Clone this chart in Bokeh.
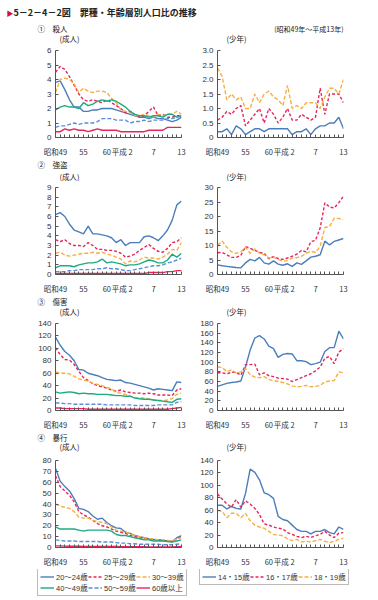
from bokeh.plotting import figure
from bokeh.models import ColumnDataSource, FixedTicker, Label, Legend, LegendItem, Range1d
from bokeh.layouts import column, row
from bokeh.embed import file_html
from bokeh.resources import INLINE

# ---------------- data ----------------
years = list(range(1974, 2002))
x_tick_years = [1974, 1980, 1985, 1990, 1995, 2001]
x_tick_labels = ["昭和49", "55", "60", "平成 2", "7", "13"]

adult_labels = ["20～24歳", "25～29歳", "30～39歳", "40～49歳", "50～59歳", "60歳以上"]
youth_labels = ["14・15歳", "16・17歳", "18・19歳"]

# ① 殺人
murder_a_20_24 = [3.8,3.9,3.3,2.6,2.1,2.1,1.8,1.8,1.9,1.9,2.0,2.0,2.0,1.9,1.8,1.7,1.6,1.5,1.4,1.4,1.3,1.4,1.3,1.3,1.2,1.1,1.2,1.4]
murder_a_25_29 = [4.5,4.9,4.7,4.2,3.6,3.0,2.6,2.5,2.6,2.5,2.4,2.6,2.4,2.2,2.0,1.7,1.8,1.6,1.4,1.5,1.8,2.1,1.5,1.6,1.4,1.4,1.5,1.5]
murder_a_30_39 = [3.1,4.0,4.1,4.0,3.7,3.1,3.4,3.2,3.1,3.2,3.2,3.1,2.7,2.4,1.9,1.8,1.7,1.5,1.5,1.6,1.5,1.4,1.6,1.5,1.6,1.6,1.8,1.6]
murder_a_40_49 = [1.9,2.1,2.2,2.1,2.1,2.0,2.4,2.2,2.3,2.5,2.6,2.5,2.6,2.5,2.3,2.1,1.8,1.6,1.5,1.5,1.4,1.5,1.5,1.4,1.6,1.6,1.4,1.5]
murder_a_50_59 = [0.7,0.8,0.8,0.9,1.0,0.9,1.0,1.0,1.0,1.1,1.3,1.3,1.3,1.2,1.2,1.2,1.0,1.1,1.1,1.2,1.1,1.2,1.2,1.2,1.3,1.3,1.4,1.5]
murder_a_60 = [0.4,0.4,0.6,0.5,0.6,0.5,0.5,0.4,0.5,0.6,0.5,0.5,0.5,0.5,0.4,0.4,0.4,0.4,0.4,0.4,0.5,0.5,0.5,0.5,0.7,0.7,0.7,0.7]
murder_y_14_15 = [0.2,0.2,0.3,0.1,0.4,0.3,0.1,0.2,0.3,0.3,0.2,0.3,0.3,0.3,0.3,0.3,0.1,0.2,0.2,0.3,0.1,0.3,0.4,0.4,0.5,0.5,0.7,0.3]
murder_y_16_17 = [0.6,0.7,0.9,0.8,1.0,1.1,0.4,0.6,0.8,1.0,0.5,1.0,0.8,0.5,0.7,1.0,0.6,0.6,0.8,0.7,0.6,0.7,1.7,0.8,1.5,1.5,1.5,1.2]
murder_y_18_19 = [2.4,2.1,1.3,1.5,1.3,1.4,1.0,1.0,1.5,1.2,1.5,1.6,1.4,1.3,1.1,1.8,1.0,1.1,1.0,1.2,1.2,1.2,1.0,1.4,1.7,1.7,1.5,2.0]

# ② 強盗
robbery_a_20_24 = [6.2,6.4,6.0,5.2,4.6,4.4,4.2,5.0,4.2,4.2,4.1,4.0,3.8,3.3,3.6,3.0,3.3,3.3,3.3,3.9,4.0,3.8,3.5,4.0,4.6,5.6,7.2,7.6]
robbery_a_25_29 = [3.6,3.4,3.6,3.2,3.0,3.0,2.9,3.3,3.0,2.6,2.6,2.5,2.5,2.4,2.2,1.8,1.9,2.1,2.5,2.8,3.1,2.7,2.4,2.3,2.7,3.3,3.4,3.8]
robbery_a_30_39 = [2.2,2.3,2.0,1.9,2.0,2.1,2.2,2.2,2.3,2.2,2.3,2.1,2.0,1.8,1.6,1.1,1.4,1.3,1.5,1.8,1.7,1.7,1.6,1.8,2.1,2.6,2.5,3.3]
robbery_a_40_49 = [0.7,0.9,0.9,0.9,0.8,1.0,1.1,1.2,1.2,1.3,1.6,1.2,1.3,1.2,1.1,0.9,1.0,1.0,1.1,1.3,1.5,1.4,1.2,1.2,1.5,2.1,1.8,2.2]
robbery_a_50_59 = [0.3,0.3,0.3,0.4,0.4,0.5,0.5,0.5,0.5,0.6,0.6,0.7,0.6,0.6,0.5,0.4,0.4,0.5,0.6,0.7,0.8,0.9,0.9,1.0,1.2,1.3,1.5,1.7]
robbery_a_60 = [0.1,0.1,0.1,0.1,0.1,0.1,0.1,0.1,0.1,0.1,0.1,0.1,0.1,0.1,0.1,0.1,0.1,0.1,0.1,0.1,0.2,0.2,0.2,0.2,0.3,0.3,0.4,0.4]
robbery_y_14_15 = [3.3,3.0,2.8,2.6,2.4,2.3,4.0,5.2,4.7,5.9,4.0,3.6,4.7,3.6,3.2,3.7,2.8,4.0,3.5,4.7,6.0,6.3,6.8,11.5,10.2,11.4,11.9,12.4]
robbery_y_16_17 = [7.5,7.6,6.8,5.9,5.9,6.6,9.6,9.0,8.3,7.6,7.3,5.4,6.2,5.5,5.2,5.7,6.3,7.0,8.3,7.8,11.3,11.8,16.0,24.7,23.3,22.9,24.8,27.0]
robbery_y_18_19 = [10.0,11.5,9.4,7.8,7.3,7.8,9.4,7.3,8.8,7.3,6.8,5.7,6.0,5.2,4.6,4.8,5.7,5.8,6.3,7.3,8.0,7.6,9.7,16.2,16.5,19.4,19.3,18.9]

# ③ 傷害
assault_a_20_24 = [118,105,95,89,80,66,65,60,58,56,53,50,49,48,49,45,44,42,40,38,36,33,35,34,33,32,46,45]
assault_a_25_29 = [101,90,82,81,74,63,53,48,43,40,38,36,33,31,33,30,29,28,28,27,28,27,25,25,25,24,33,35]
assault_a_30_39 = [62,60,60,59,55,51,49,47,44,42,40,37,35,29,28,26,23,21,20,20,19,17,16,16,17,19,26,28]
assault_a_40_49 = [30,28,29,30,29,27,28,27,27,26,26,26,25,24,24,23,23,20,19,18,18,17,16,15,14,13,18,19]
assault_a_50_59 = [12,12,11,11,10,10,10,10,10,10,10,9,9,9,9,9,9,8,8,8,8,8,9,9,9,9,13,14]
assault_a_60 = [4,4,3,3,3,3,3,2,2,2,2,2,2,2,2,2,2,2,2,2,2,2,2,2,2,3,4,5]
assault_y_14_15 = [50,53,56,58,59,61,90,125,150,155,148,133,128,110,116,118,117,103,103,101,95,97,100,122,130,130,164,148]
assault_y_16_17 = [78,78,76,79,79,73,95,95,96,74,78,72,70,67,66,65,60,64,68,72,76,82,90,108,112,97,121,128]
assault_y_18_19 = [90,89,80,84,78,80,87,74,69,68,70,64,62,60,58,55,51,49,50,52,49,50,52,59,61,62,80,78]

# ④ 暴行
violence_a_20_24 = [73,61,56,52,45,36,35,33,29,26,27,23,20,18,17.5,14,13,11,10,9,8,7.5,7,6.5,6,5.5,9,11]
violence_a_25_29 = [66,56,52,48,42,33,30,28,25,22,20,19,17,15,14,13,11,10,9,8,8,7,7,6.5,6,5.5,8,10]
violence_a_30_39 = [40,38,37,36,33,28,27,27,25,24,23,22,19,16,15,14,13,11,10,9,8,8,7,7,6.5,6,8,9]
violence_a_40_49 = [19,17,17,17,17,16,15,16,16,16,16,16,15,12,11,11,10,9,8,7,7,6,6,6,5.5,5,6,7]
violence_a_50_59 = [7,6.5,6,6,6,5.5,5.5,5.5,5.5,5.5,5,5,5,4.5,4,4,3.5,3.5,3,3,3,3,3,2.5,2.5,2.5,3,3.5]
violence_a_60 = [1.5,1.5,1.3,1.2,1.2,1.1,1,1,1,1,1,1,1,0.9,0.8,0.8,0.8,0.7,0.7,0.7,0.6,0.6,0.6,0.6,0.6,0.6,0.8,1.0]
violence_y_14_15 = [68,68,62,66,63,62,87,126,121,109,88,85,79,50,45,43,36,29,26,26,22,26,26,29,24,22,33,29]
violence_y_16_17 = [86,78,70,65,77,65,75,70,63,53,38,36,33,31,30,24,21,18,16,18,16,19,21,26,20,16,23,24]
violence_y_18_19 = [60,58,48,55,55,48,55,43,36,33,31,26,21,20,19,14,11,13,9,10,9,11,13,10,8,10,13,15]

# ---------------- style ----------------
JP = "Noto Sans CJK JP"
NUM = "Liberation Sans"
LEG_FONT = "Liberation Sans, Noto Sans CJK JP"
BLUE = "#4a7ebb"
RED = "#e8245a"
ORANGE = "#f6b042"
GREEN = "#1eab82"
LBLUE = "#5a8fd6"
AXIS = "#555555"
TXT = "#333333"

adult_styles = [(BLUE, "solid"), (RED, "3 2"), (ORANGE, "4 2"),
                (GREEN, "solid"), (LBLUE, "4 2"), (RED, "solid")]
youth_styles = [(BLUE, "solid"), (RED, "3 2"), (ORANGE, "4 2")]

FULL_W = 378
LEFT_W, RIGHT_W = 190, 188
LEFT_B = (55, 9)
RIGHT_B = (27, 35)


def blank(h):
    p = figure(width=FULL_W, height=h, x_range=Range1d(0, 1), y_range=Range1d(0, 1),
               output_backend="svg", toolbar_location=None,
               x_axis_location=None, y_axis_location=None, min_border=0)
    p.outline_line_color = None
    p.grid.visible = False
    return p


def note(p, text, x, y, align="left", size="7.5px", color="#222222", style="normal"):
    p.add_layout(Label(x=x, y=y, x_units="screen", y_units="screen", text=text,
                       text_font=JP, text_font_size=size, text_color=color,
                       text_font_style=style, text_align=align, text_baseline="middle"))


def make_panel(series, styles, ymax, ystep, width, height, borders, bt, bb):
    bl, br = borders
    p = figure(width=width, height=height, x_range=Range1d(1974, 2001),
               y_range=Range1d(0, ymax), output_backend="svg", toolbar_location=None,
               min_border_left=bl, min_border_right=br, min_border_top=bt,
               min_border_bottom=bb)
    p.outline_line_color = None
    p.grid.visible = False

    data = {"year": years}
    for i, s in enumerate(series):
        data[f"s{i}"] = s
    src = ColumnDataSource(data)
    for i, (c, d) in enumerate(styles):
        p.line("year", f"s{i}", source=src, line_color=c, line_dash=d, line_width=1.4)

    # x axis
    pos = [y - 1.7 if lab.startswith("平成") else y for y, lab in zip(x_tick_years, x_tick_labels)]
    p.xaxis.ticker = FixedTicker(ticks=pos, minor_ticks=years)
    p.xaxis.major_label_overrides = dict(zip(pos, x_tick_labels))
    p.xaxis.minor_tick_in = 3
    p.xaxis.minor_tick_out = 0
    p.xaxis.minor_tick_line_color = AXIS
    p.xaxis.major_label_standoff = 2
    # y axis
    n = int(round(ymax / ystep))
    ticks = []
    over = {}
    for k in range(n + 1):
        t = round(k * ystep, 3)
        if float(t).is_integer():
            t = int(t)
        ticks.append(t)
        if t == 0:
            over[t] = "0"
        elif ystep < 1:
            over[t] = f"{t:.1f}"
        else:
            over[t] = str(int(t))
    p.yaxis.ticker = FixedTicker(ticks=ticks)
    p.yaxis.major_label_overrides = over
    p.yaxis.major_tick_in = 3
    p.yaxis.major_tick_out = 0
    p.yaxis.minor_tick_line_color = None
    p.yaxis.major_label_standoff = 4
    for ax in (p.xaxis, p.yaxis):
        ax.axis_line_color = AXIS
        ax.major_label_text_font = NUM
        ax.major_label_text_font_size = "8px"
        ax.major_label_text_color = TXT
    p.yaxis.major_tick_line_color = AXIS
    p.xaxis.major_tick_line_color = None
    p.xaxis.major_label_text_font = JP
    p.xaxis.major_label_text_font_size = "7.5px"
    return p


# header strip with title and section ①
s1 = blank(44)
note(s1, "▶", 6, 32, size="7px", color="#d0103a")
note(s1, "5－2－4－2図　罪種・年齢層別人口比の推移", 13, 32, size="9px", style="bold")
note(s1, "①　殺人", 37, 16)
note(s1, "(昭和49年～平成13年)", 343, 16, align="right", size="7px")
note(s1, "(成人)", 59, 6)
note(s1, "(少年)", 226, 6)

p1l = make_panel([murder_a_20_24, murder_a_25_29, murder_a_30_39, murder_a_40_49,
                  murder_a_50_59, murder_a_60], adult_styles,
                 6, 1, LEFT_W, 115, LEFT_B, 6, 13)
p1r = make_panel([murder_y_14_15, murder_y_16_17, murder_y_18_19],
                 youth_styles, 3, 0.5, RIGHT_W, 115, RIGHT_B, 6, 13)

s2 = blank(22)
note(s2, "②　強盗", 37, 17)
note(s2, "(成人)", 59, 5)
note(s2, "(少年)", 226, 5)

p2l = make_panel([robbery_a_20_24, robbery_a_25_29, robbery_a_30_39, robbery_a_40_49,
                  robbery_a_50_59, robbery_a_60], adult_styles,
                 9, 1, LEFT_W, 115, LEFT_B, 6, 15)
p2r = make_panel([robbery_y_14_15, robbery_y_16_17, robbery_y_18_19],
                 youth_styles, 30, 5, RIGHT_W, 115, RIGHT_B, 5, 15)

s3 = blank(21)
note(s3, "③　傷害", 37, 16)
note(s3, "(成人)", 59, 6)
note(s3, "(少年)", 226, 6)

p3l = make_panel([assault_a_20_24, assault_a_25_29, assault_a_30_39, assault_a_40_49,
                  assault_a_50_59, assault_a_60], adult_styles,
                 140, 20, LEFT_W, 115, LEFT_B, 6, 13)
p3r = make_panel([assault_y_14_15, assault_y_16_17, assault_y_18_19],
                 youth_styles, 180, 20, RIGHT_W, 115, RIGHT_B, 6, 13)

s4 = blank(22)
note(s4, "④　暴行", 37, 17)
note(s4, "(成人)", 59, 8)
note(s4, "(少年)", 226, 8)

p4l = make_panel([violence_a_20_24, violence_a_25_29, violence_a_30_39, violence_a_40_49,
                  violence_a_50_59, violence_a_60], adult_styles,
                 80, 10, LEFT_W, 115, LEFT_B, 6, 13)
p4r = make_panel([violence_y_14_15, violence_y_16_17, violence_y_18_19],
                 youth_styles, 140, 20, RIGHT_W, 115, RIGHT_B, 6, 13)

# legend strip
lf = blank(29)
NAN = float("nan")


def legend_for(labels, styles, loc):
    items = []
    for lab, (c, d) in zip(labels, styles):
        r = lf.line(x=[NAN], y=[NAN], line_color=c, line_dash=d, line_width=1.4)
        items.append(LegendItem(label=lab, renderers=[r]))
    lg = Legend(items=items, location=loc, orientation="horizontal", ncols=3,
                label_text_font=LEG_FONT, label_text_font_size="7.5px", label_text_color=TXT,
                glyph_width=14, glyph_height=7, label_standoff=2, label_height=7,
                label_width=32, spacing=0, padding=2, margin=0,
                border_line_color="#777777", border_line_width=1,
                background_fill_color="white", background_fill_alpha=1.0)
    lf.add_layout(lg)


legend_for(adult_labels, adult_styles, (37, 2))
legend_for(youth_labels, youth_styles, (199, 13))

layout = column(s1, row(p1l, p1r), s2, row(p2l, p2r), s3, row(p3l, p3r),
                s4, row(p4l, p4r), lf)
open("out.html", "w").write(file_html(layout, INLINE))
